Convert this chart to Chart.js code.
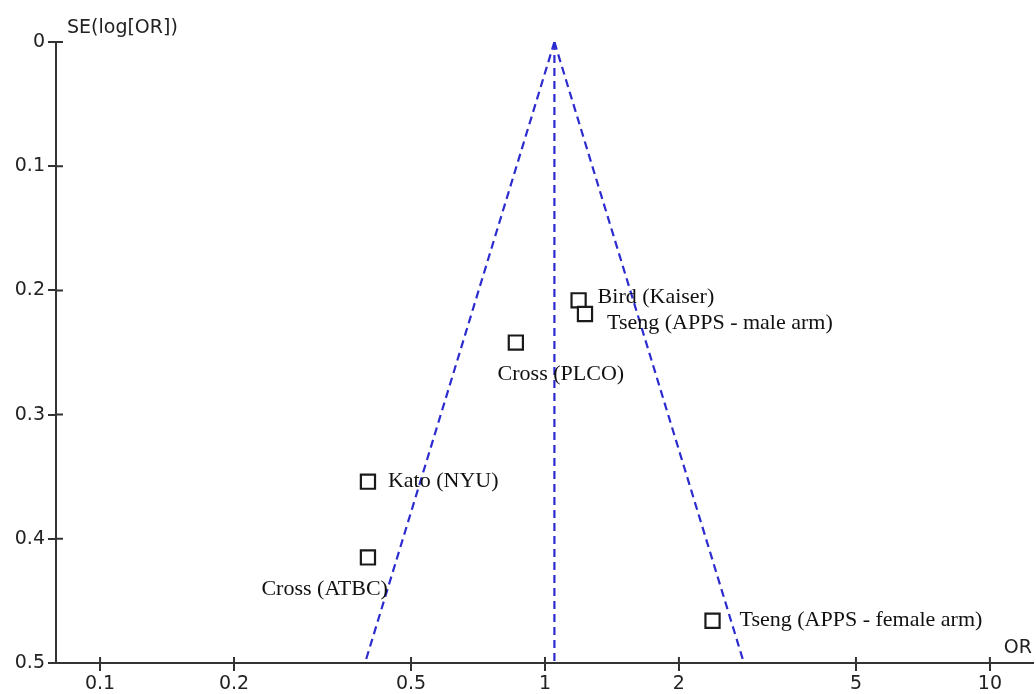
<!DOCTYPE html>
<html>
<head>
    <title>Funnel plot</title>
    <script src="https://cdn.jsdelivr.net/npm/chart.js@4/dist/chart.umd.min.js"></script>
    <style>
        html, body { margin: 0; background: #fff; overflow: hidden; }
        .wrap { width: 1036px; height: 694px; position: relative; }
        canvas { display: block; }
    </style>
</head>
<body>
    <div class="wrap"><canvas id="funnel"></canvas></div>
    <script>
        // study estimates
        const studies = ['Bird (Kaiser)', 'Tseng (APPS - male arm)', 'Cross (PLCO)', 'Kato (NYU)', 'Cross (ATBC)', 'Tseng (APPS - female arm)'];
        const oddsRatios = [1.19, 1.23, 0.86, 0.40, 0.40, 2.38];
        const standardErrors = [0.208, 0.219, 0.242, 0.354, 0.415, 0.466];

        // pooled estimate and funnel limits
        const pooledOR = 1.05;
        const funnelSE = [0, 0.5];
        const funnelLeftOR = [1.05, 0.394];
        const funnelRightOR = [1.05, 2.80];

        const xTicks = [0.1, 0.2, 0.5, 1, 2, 5, 10];
        const yTicks = [0, 0.1, 0.2, 0.3, 0.4, 0.5];

        // where each label sits relative to its marker (style only)
        const labelPlacement = [
            { dx: 19, dy: -3, align: 'left' },
            { dx: 22, dy: 9, align: 'left' },
            { dx: 45, dy: 32, align: 'center' },
            { dx: 20, dy: 0, align: 'left' },
            { dx: 20, dy: 32, align: 'right' },
            { dx: 27, dy: -1, align: 'left' }
        ];

        const blue = '#2b2bd0';
        const axisColor = '#333';
        const tickFont = { family: '"DejaVu Sans", sans-serif', size: 19 };

        const pts = (xs, ys) => xs.map((x, i) => ({ x: x, y: ys[i] }));

        const labelPlugin = {
            id: 'studyLabels',
            afterDatasetsDraw(chart) {
                const ctx = chart.ctx;
                const meta = chart.getDatasetMeta(3);
                ctx.save();
                ctx.font = '22px "Liberation Serif", serif';
                ctx.fillStyle = '#111';
                ctx.textBaseline = 'middle';
                meta.data.forEach((el, i) => {
                    const p = labelPlacement[i];
                    ctx.textAlign = p.align;
                    ctx.fillText(studies[i], el.x + p.dx, el.y + p.dy);
                });
                ctx.restore();
            }
        };

        const axisPlugin = {
            id: 'axisExtras',
            afterDraw(chart) {
                const ctx = chart.ctx;
                const xs = chart.scales.x, ys = chart.scales.y;
                const area = chart.chartArea;
                ctx.save();
                ctx.strokeStyle = axisColor;
                ctx.lineWidth = 2;
                ctx.beginPath();
                // inner half of the tick marks
                yTicks.forEach(v => {
                    const py = ys.getPixelForValue(v);
                    ctx.moveTo(area.left, py);
                    ctx.lineTo(area.left + 7, py);
                });
                xTicks.forEach(v => {
                    const px = xs.getPixelForValue(v);
                    ctx.moveTo(px, area.bottom);
                    ctx.lineTo(px, area.bottom - 6);
                });
                ctx.stroke();
                ctx.fillStyle = '#222';
                ctx.font = '19px "DejaVu Sans", sans-serif';
                ctx.textBaseline = 'middle';
                ctx.textAlign = 'left';
                ctx.fillText('SE(log[OR])', 67, 28);
                ctx.textAlign = 'right';
                ctx.fillText('OR', 1032, 648);
                ctx.restore();
            }
        };

        const dashed = {
            type: 'line',
            borderColor: blue,
            borderWidth: 2.2,
            borderDash: [8, 5],
            pointRadius: 0,
            fill: false
        };

        new Chart(document.getElementById('funnel'), {
            type: 'scatter',
            data: {
                datasets: [
                    Object.assign({ data: pts([pooledOR, pooledOR], funnelSE) }, dashed),
                    Object.assign({ data: pts(funnelLeftOR, funnelSE) }, dashed),
                    Object.assign({ data: pts(funnelRightOR, funnelSE) }, dashed),
                    {
                        data: pts(oddsRatios, standardErrors),
                        pointStyle: 'rect',
                        pointRadius: 10,
                        pointHoverRadius: 10,
                        borderColor: '#1a1a1a',
                        borderWidth: 2.2,
                        backgroundColor: '#fff'
                    }
                ]
            },
            options: {
                responsive: true,
                maintainAspectRatio: false,
                animation: false,
                layout: { autoPadding: false, padding: { top: 42, right: 3, left: 0, bottom: 0 } },
                plugins: {
                    legend: { display: false },
                    tooltip: { enabled: false }
                },
                scales: {
                    x: {
                        type: 'logarithmic',
                        min: 0.0796,
                        max: 12.5,
                        afterBuildTicks: s => { s.ticks = xTicks.map(v => ({ value: v })); },
                        afterFit: s => { s.height = 31; s.paddingRight = 0; s.paddingLeft = 0; },
                        border: { display: true, color: axisColor, width: 2 },
                        grid: { drawOnChartArea: false, drawTicks: true, tickLength: 8, color: axisColor, lineWidth: 2 },
                        ticks: {
                            autoSkip: false,
                            maxRotation: 0,
                            padding: 2,
                            color: '#222',
                            font: tickFont,
                            callback: v => String(v)
                        }
                    },
                    y: {
                        reverse: true,
                        min: 0,
                        max: 0.5,
                        afterBuildTicks: s => { s.ticks = yTicks.map(v => ({ value: v })); },
                        afterFit: s => { s.width = 56; s.paddingTop = 0; s.paddingBottom = 0; },
                        border: { display: true, color: axisColor, width: 2 },
                        grid: { drawOnChartArea: false, drawTicks: true, tickLength: 8, color: axisColor, lineWidth: 2 },
                        ticks: {
                            padding: 3,
                            color: '#222',
                            font: tickFont,
                            callback: v => String(v)
                        }
                    }
                }
            },
            plugins: [labelPlugin, axisPlugin]
        });
    </script>
</body>
</html>
